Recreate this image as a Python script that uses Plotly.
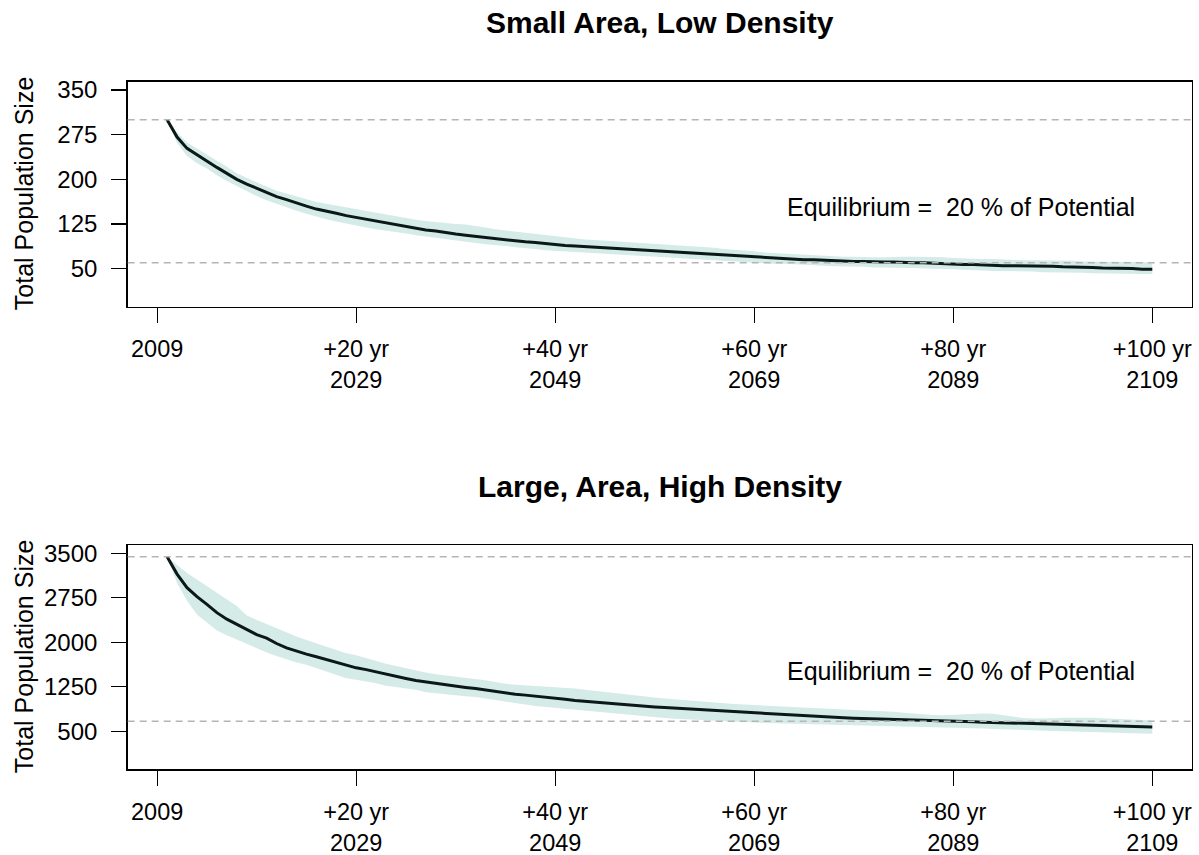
import plotly.graph_objects as go

# ---------------- data ----------------
years = list(range(2010, 2110))

tick_years = [2009, 2029, 2049, 2069, 2089, 2109]
tick_text = ["2009", "+20 yr<br>2029", "+40 yr<br>2049", "+60 yr<br>2069",
             "+80 yr<br>2089", "+100 yr<br>2109"]

titles = ["Small Area, Low Density", "Large, Area, High Density"]
y_ticks_small = [50, 125, 200, 275, 350]
y_ticks_large = [500, 1250, 2000, 2750, 3500]
potential = [300, 3440]
equilibrium = [60, 670]
eq_label = "Equilibrium =\u00a0 20 % of Potential"
y_label = "Total Population Size"

small_median = [
    300, 271, 252, 241, 231, 220, 210, 200, 192, 185,
    178, 171, 166, 160, 155, 150, 147, 143, 139, 136,
    133, 129, 126, 123, 121, 118, 115, 113, 110, 108,
    106, 104, 102, 100, 98, 96, 95, 94, 92, 90,
    89, 88, 87, 86, 85, 84, 83, 82, 81, 80,
    79, 78, 77, 76, 75, 74, 73, 71, 70, 69,
    68, 67, 66, 66, 65, 65, 64, 63, 63, 62,
    62, 61, 61, 61, 60, 60, 60, 59, 59, 58,
    57, 57, 56, 56, 55, 55, 55, 54, 54, 54,
    53, 53, 52, 52, 51, 51, 50, 50, 49, 49,
]
small_upper = [
    300, 279, 262, 252, 242, 231, 221, 210, 202, 195,
    188, 181, 176, 171, 166, 162, 159, 156, 153, 150,
    147, 143, 140, 137, 135, 132, 130, 128, 126, 125,
    124, 122, 119, 116, 114, 112, 110, 108, 106, 104,
    102, 100, 99, 98, 97, 96, 95, 94, 93, 92,
    90, 89, 88, 87, 86, 85, 83, 82, 80, 79,
    77, 76, 75, 74, 73, 72, 71, 70, 70, 70,
    69, 69, 69, 70, 70, 70, 70, 70, 69, 68,
    67, 67, 66, 66, 65, 65, 64, 64, 64, 63,
    63, 63, 62, 62, 62, 61, 61, 61, 61, 60,
]
small_lower = [
    300, 261, 239, 227, 218, 207, 197, 188, 180, 172,
    165, 158, 153, 147, 142, 137, 133, 129, 125, 122,
    119, 116, 113, 111, 109, 106, 104, 102, 99, 97,
    95, 93, 91, 89, 88, 86, 84, 83, 81, 79,
    78, 77, 76, 75, 74, 73, 72, 72, 71, 70,
    69, 68, 67, 66, 65, 64, 63, 62, 61, 60,
    59, 58, 58, 57, 56, 56, 55, 54, 54, 53,
    53, 52, 52, 51, 51, 51, 50, 50, 49, 49,
    48, 47, 47, 46, 46, 45, 45, 45, 44, 44,
    43, 43, 43, 42, 42, 42, 41, 41, 41, 41,
]

large_median = [
    3440, 3150, 2920, 2770, 2640, 2500, 2390, 2300, 2210, 2130,
    2070, 1980, 1905, 1850, 1800, 1757, 1710, 1655, 1605, 1570,
    1540, 1500, 1460, 1425, 1390, 1355, 1330, 1310, 1285, 1260,
    1240, 1220, 1195, 1170, 1145, 1125, 1110, 1095, 1078, 1060,
    1040, 1020, 1005, 990, 975, 960, 948, 935, 922, 910,
    900, 890, 880, 868, 857, 846, 835, 826, 816, 806,
    795, 785, 775, 766, 757, 748, 740, 733, 727, 721,
    717, 713, 705, 698, 692, 688, 686, 680, 675, 670,
    665, 660, 655, 650, 645, 640, 636, 632, 628, 622,
    616, 610, 604, 598, 593, 588, 584, 580, 577, 573,
]
large_upper = [
    3440, 3300, 3170, 3059, 2950, 2835, 2720, 2610, 2450, 2380,
    2300, 2230, 2160, 2100, 2040, 1985, 1930, 1870, 1815, 1780,
    1730, 1690, 1640, 1600, 1560, 1525, 1490, 1460, 1440, 1420,
    1400, 1385, 1360, 1330, 1300, 1285, 1275, 1268, 1258, 1250,
    1240, 1220, 1200, 1180, 1160, 1140, 1120, 1100, 1085, 1070,
    1055, 1040, 1025, 1010, 997, 985, 972, 960, 950, 940,
    930, 920, 913, 905, 898, 890, 883, 877, 870, 864,
    858, 855, 845, 830, 815, 800, 785, 775, 772, 778,
    790, 798, 800, 795, 770, 745, 725, 715, 715, 720,
    728, 732, 732, 730, 720, 710, 700, 695, 690, 686,
]
large_lower = [
    3440, 3000, 2700, 2470, 2330, 2200, 2120, 2040, 1975, 1900,
    1830, 1770, 1710, 1660, 1620, 1560, 1505, 1450, 1395, 1370,
    1345, 1310, 1270, 1245, 1225, 1200, 1160, 1140, 1120, 1105,
    1090, 1078, 1052, 1025, 998, 975, 950, 925, 910, 890,
    880, 865, 850, 835, 815, 800, 785, 770, 755, 740,
    725, 712, 700, 692, 686, 678, 670, 662, 655, 648,
    641, 635, 630, 626, 622, 618, 614, 611, 608, 605,
    603, 601, 595, 588, 582, 578, 575, 573, 570, 560,
    555, 550, 546, 540, 535, 528, 522, 518, 515, 510,
    503, 496, 490, 484, 479, 474, 470, 466, 463, 461,
]

# ---------------- styling / layout ----------------
W, H = 1199, 855
FONT = "Liberation Sans, Arial, Helvetica, sans-serif"
BAND = "#d5ebe8"
LINE = "#0a1918"
DASH = "#b5b5b5"
TICK_SIZE = 23.5
TEXT_SIZE = 25
TITLE_SIZE = 30

def fx(p):
    return p / W

def fy(p):
    return 1 - p / H

box_left, box_right = 127.7, 1191.7
boxes = [(81.7, 306.7), (545.0, 769.3)]
y_ranges = [[-14, 364], [-140, 3640]]
x_range = [2006.04, 2112.96]
title_y = [22, 487]
eq_text_y = [153.5, 1525]
eq_text_x = 2089.8

panels = [
    (small_median, small_upper, small_lower, y_ticks_small),
    (large_median, large_upper, large_lower, y_ticks_large),
]

fig = go.Figure()
layout = dict(
    template="none",
    width=W, height=H,
    margin=dict(l=0, r=0, t=0, b=0, pad=0, autoexpand=False),
    paper_bgcolor="white", plot_bgcolor="white",
    showlegend=False, hovermode=False,
    font=dict(family=FONT, size=TICK_SIZE, color="black"),
    annotations=[], shapes=[],
)

for i, (med, hi, lo, yt) in enumerate(panels):
    sfx = "" if i == 0 else str(i + 1)
    xa, ya = "x" + sfx, "y" + sfx
    top, bot = boxes[i]

    fig.add_trace(go.Scatter(
        x=years + years[::-1], y=hi + lo[::-1],
        fill="toself", fillcolor=BAND, mode="lines",
        line=dict(width=0, color=BAND), xaxis=xa, yaxis=ya, hoverinfo="skip"))
    fig.add_trace(go.Scatter(
        x=years, y=med, mode="lines",
        line=dict(color=LINE, width=3), xaxis=xa, yaxis=ya, hoverinfo="skip"))

    layout["xaxis" + sfx] = dict(
        domain=[fx(box_left), fx(box_right)], anchor=ya, range=x_range,
        tickmode="array", tickvals=tick_years, ticktext=tick_text,
        ticks="outside", ticklen=15, tickwidth=1.3, tickcolor="black",
        showline=True, mirror=True, linecolor="black", linewidth=1.5,
        showgrid=False, zeroline=False, automargin=False, ticklabelstandoff=6,
        tickfont=dict(family=FONT, size=TICK_SIZE, color="black"))
    layout["yaxis" + sfx] = dict(
        domain=[fy(bot), fy(top)], anchor=xa, range=y_ranges[i],
        tickmode="array", tickvals=yt, ticktext=[str(v) for v in yt],
        ticks="outside", ticklen=15, tickwidth=1.3, tickcolor="black",
        showline=True, mirror=True, linecolor="black", linewidth=1.5,
        showgrid=False, zeroline=False, automargin=False, ticklabelstandoff=9,
        tickfont=dict(family=FONT, size=24, color="black"))

    for val in (potential[i], equilibrium[i]):
        layout["shapes"].append(dict(
            type="line", xref=xa + " domain", x0=0, x1=1, yref=ya, y0=val, y1=val,
            line=dict(color=DASH, width=1.5, dash="7px,5px"), layer="above"))

    layout["annotations"].append(dict(
        text="<b>" + titles[i] + "</b>", xref="paper", yref="paper",
        x=fx((box_left + box_right) / 2), y=fy(title_y[i]),
        xanchor="center", yanchor="middle", showarrow=False,
        font=dict(family=FONT, size=TITLE_SIZE, color="black")))
    layout["annotations"].append(dict(
        text=y_label, xref="paper", yref="paper", textangle=-90,
        x=fx(24), y=fy((top + bot) / 2), xanchor="center", yanchor="middle",
        showarrow=False, font=dict(family=FONT, size=TEXT_SIZE, color="black")))
    layout["annotations"].append(dict(
        text=eq_label, xref=xa, yref=ya, x=eq_text_x, y=eq_text_y[i],
        xanchor="center", yanchor="middle", showarrow=False,
        font=dict(family=FONT, size=TEXT_SIZE, color="black")))

fig.update_layout(**layout)
fig.write_html("out.html",
               config={"displayModeBar": False, "staticPlot": True},
               post_script="document.body.style.margin='0px';"
                           "document.body.style.overflow='hidden';")
